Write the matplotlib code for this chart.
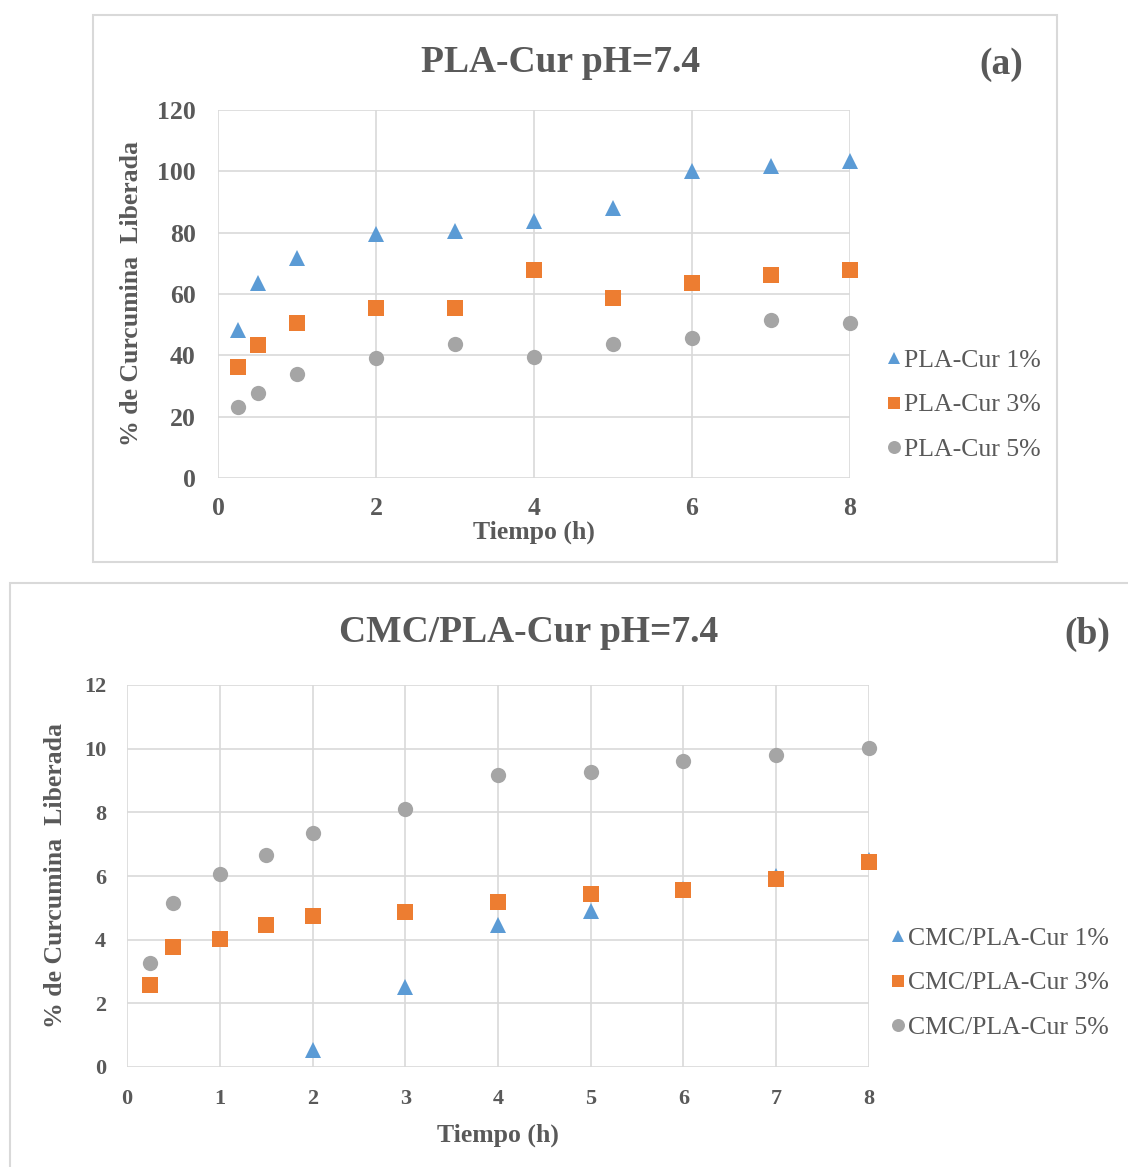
import matplotlib.pyplot as plt
from matplotlib.patches import Rectangle

# Panel (a): PLA-Cur, pH 7.4
time_a = [0.25, 0.5, 1, 2, 3, 4, 5, 6, 7, 8]
pla_1 = [48.3, 63.6, 71.7, 79.6, 80.5, 83.8, 88.0, 100.0, 101.7, 103.4]
pla_3 = [36.2, 43.4, 50.5, 55.4, 55.4, 67.8, 58.7, 63.6, 66.2, 67.8]
pla_5 = [23.0, 27.7, 33.9, 39.1, 43.7, 39.5, 43.7, 45.6, 51.5, 50.5]
labels_a = ['PLA-Cur 1%', 'PLA-Cur 3%', 'PLA-Cur 5%']

# Panel (b): CMC/PLA-Cur, pH 7.4
time_b = [0.25, 0.5, 1, 1.5, 2, 3, 4, 5, 6, 7, 8]
time_b1 = [2, 3, 4, 5, 6, 7, 8]
cmc_1 = [0.53, 2.5, 4.46, 4.9, 5.6, 6.0, 6.5]
cmc_3 = [2.58, 3.77, 4.02, 4.46, 4.74, 4.87, 5.18, 5.43, 5.56, 5.9, 6.44]
cmc_5 = [3.27, 5.15, 6.06, 6.66, 7.35, 8.1, 9.17, 9.27, 9.61, 9.8, 10.02]
labels_b = ['CMC/PLA-Cur 1%', 'CMC/PLA-Cur 3%', 'CMC/PLA-Cur 5%']

BLUE, ORANGE, GRAY = '#5b9bd5', '#ed7d31', '#a5a5a5'
TXT = '#595959'
GRID = '#d9d9d9'
plt.rcParams['font.family'] = ['Liberation Serif', 'DejaVu Serif']

W, H = 1128, 1167
fig = plt.figure(figsize=(W / 100, H / 100), dpi=100)


def fx(px):
    return px / W


def fy(py):
    return 1 - py / H


# panel frames
fig.patches.append(Rectangle((fx(93), fy(562)), fx(1057 - 93), (562 - 15) / H,
                             transform=fig.transFigure, fill=False,
                             edgecolor=GRID, lw=1.5))
fig.patches.append(Rectangle((fx(10), fy(1200)), fx(1200), (1200 - 583) / H,
                             transform=fig.transFigure, fill=False,
                             edgecolor=GRID, lw=1.5))


def style_axes(ax, tick_size, xpad, ypad):
    for s in ax.spines.values():
        s.set_visible(False)
    ax.grid(True, color=GRID, lw=1.2)
    ax.set_axisbelow(True)
    ax.tick_params(length=0, labelsize=tick_size, colors=TXT)
    ax.tick_params(axis='x', pad=xpad)
    ax.tick_params(axis='y', pad=ypad)
    for lab in ax.get_xticklabels() + ax.get_yticklabels():
        lab.set_fontweight('bold')


mk = dict(linestyle='none', markersize=11, markeredgewidth=0, clip_on=False)
leg_kw = dict(frameon=False, borderpad=0, markerscale=0.85, handlelength=0.55,
              handletextpad=0.1, labelspacing=0.85, prop={'size': 18.5},
              labelcolor=TXT, bbox_transform=fig.transFigure, loc='center left')

# ---- (a)
ax1 = fig.add_axes([fx(218), fy(478), fx(850 - 218), (478 - 110) / H])
ax1.plot(time_a, pla_1, marker='^', color=BLUE, label=labels_a[0], **mk)
ax1.plot(time_a, pla_3, marker='s', color=ORANGE, label=labels_a[1], **mk)
ax1.plot(time_a, pla_5, marker='o', color=GRAY, label=labels_a[2], **mk)
ax1.set_xlim(0, 8)
ax1.set_ylim(0, 120)
ax1.set_xticks(range(0, 9, 2))
ax1.set_yticks(range(0, 121, 20))
style_axes(ax1, 18.5, 14, 16)
ax1.set_xlabel('Tiempo (h)', fontsize=18.5, fontweight='bold', color=TXT, labelpad=0)
ax1.set_ylabel('% de Curcumina  Liberada', fontsize=18.5, fontweight='bold',
               color=TXT, labelpad=10)
ax1.legend(bbox_to_anchor=(fx(874), fy(405)), **leg_kw)
fig.text(fx(561), fy(63), 'PLA-Cur pH=7.4', ha='center', va='center',
         fontsize=27, fontweight='bold', color=TXT)
fig.text(fx(1001), fy(64), '(a)', ha='center', va='center',
         fontsize=27, fontweight='bold', color=TXT)

# ---- (b)
ax2 = fig.add_axes([fx(127), fy(1067), fx(869 - 127), (1067 - 685) / H])
ax2.plot(time_b1, cmc_1, marker='^', color=BLUE, label=labels_b[0], **mk)
ax2.plot(time_b, cmc_3, marker='s', color=ORANGE, label=labels_b[1], **mk)
ax2.plot(time_b, cmc_5, marker='o', color=GRAY, label=labels_b[2], **mk)
ax2.set_xlim(0, 8)
ax2.set_ylim(0, 12)
ax2.set_xticks(range(0, 9))
ax2.set_yticks(range(0, 13, 2))
style_axes(ax2, 16, 16, 15)
ax2.set_xlabel('Tiempo (h)', fontsize=18.5, fontweight='bold', color=TXT, labelpad=10)
ax2.set_ylabel('% de Curcumina  Liberada', fontsize=18.5, fontweight='bold',
               color=TXT, labelpad=12)
ax2.legend(bbox_to_anchor=(fx(878), fy(983)), **leg_kw)
fig.text(fx(529), fy(633), 'CMC/PLA-Cur pH=7.4', ha='center', va='center',
         fontsize=27, fontweight='bold', color=TXT)
fig.text(fx(1087), fy(634), '(b)', ha='center', va='center',
         fontsize=27, fontweight='bold', color=TXT)

fig.savefig('out.png', dpi=100)
